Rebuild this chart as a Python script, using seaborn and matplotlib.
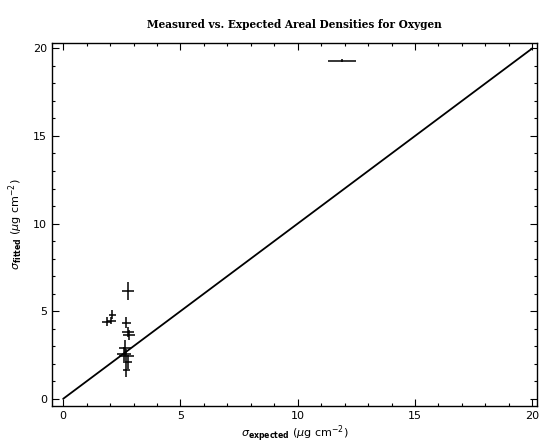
import numpy as np
import pandas as pd
import seaborn as sns
import matplotlib.pyplot as plt
from matplotlib.ticker import MultipleLocator

# measured vs expected areal densities (ug cm^-2)
sigma_expected = [2.75, 1.85, 2.05, 2.10, 2.70, 2.75, 2.80, 2.65, 2.60, 2.70, 2.75, 2.70, 11.90]
sigma_fitted = [6.15, 4.40, 4.45, 4.80, 4.35, 3.80, 3.65, 2.90, 2.55, 2.45, 2.10, 1.65, 19.30]
err_expected = [0.25, 0.20, 0.20, 0.15, 0.20, 0.25, 0.25, 0.25, 0.30, 0.30, 0.20, 0.15, 0.60]
err_fitted = [0.50, 0.25, 0.20, 0.25, 0.30, 0.30, 0.30, 0.45, 0.40, 0.40, 0.40, 0.40, 0.08]

line_x = [0, 20]
line_y = [0, 20]

sns.set_style('ticks', {'axes.edgecolor': 'black', 'text.color': 'black',
                        'axes.labelcolor': 'black', 'xtick.color': 'black',
                        'ytick.color': 'black'})
plt.rcParams['font.family'] = ['DejaVu Sans']

fig = plt.figure(figsize=(5.43, 4.44), dpi=100)
ax = fig.add_axes([0.096, 0.086, 0.893, 0.817])

df = pd.DataFrame({'x': sigma_expected, 'y': sigma_fitted})
diag = pd.DataFrame({'x': line_x, 'y': line_y})
sns.lineplot(data=diag, x='x', y='y', color='black', lw=1.3, ax=ax)
ax.errorbar(df['x'], df['y'], xerr=err_expected, yerr=err_fitted,
            fmt='none', ecolor='black', elinewidth=1.1, capsize=0)

ax.set_xlim(-0.47, 20.2)
ax.set_ylim(-0.4, 20.3)
ax.xaxis.set_major_locator(MultipleLocator(5))
ax.yaxis.set_major_locator(MultipleLocator(5))
ax.xaxis.set_minor_locator(MultipleLocator(1))
ax.yaxis.set_minor_locator(MultipleLocator(1))
ax.tick_params(which='both', direction='in', top=True, right=True, width=0.8)
ax.tick_params(which='major', length=5, labelsize=8)
ax.tick_params(which='minor', length=2.5)
for s in ax.spines.values():
    s.set_linewidth(1.0)

ax.set_xlabel(r'$\sigma_{\mathbf{expected}}$ ($\mu$g cm$^{-2}$)', fontsize=8, labelpad=2)
ax.set_ylabel(r'$\sigma_{\mathbf{fitted}}$ ($\mu$g cm$^{-2}$)', fontsize=8, labelpad=6)
ax.set_title('Measured vs. Expected Areal Densities for Oxygen',
             fontsize=7.6, fontweight='bold', family='DejaVu Serif', pad=11)

fig.savefig('out.png', dpi=100)
